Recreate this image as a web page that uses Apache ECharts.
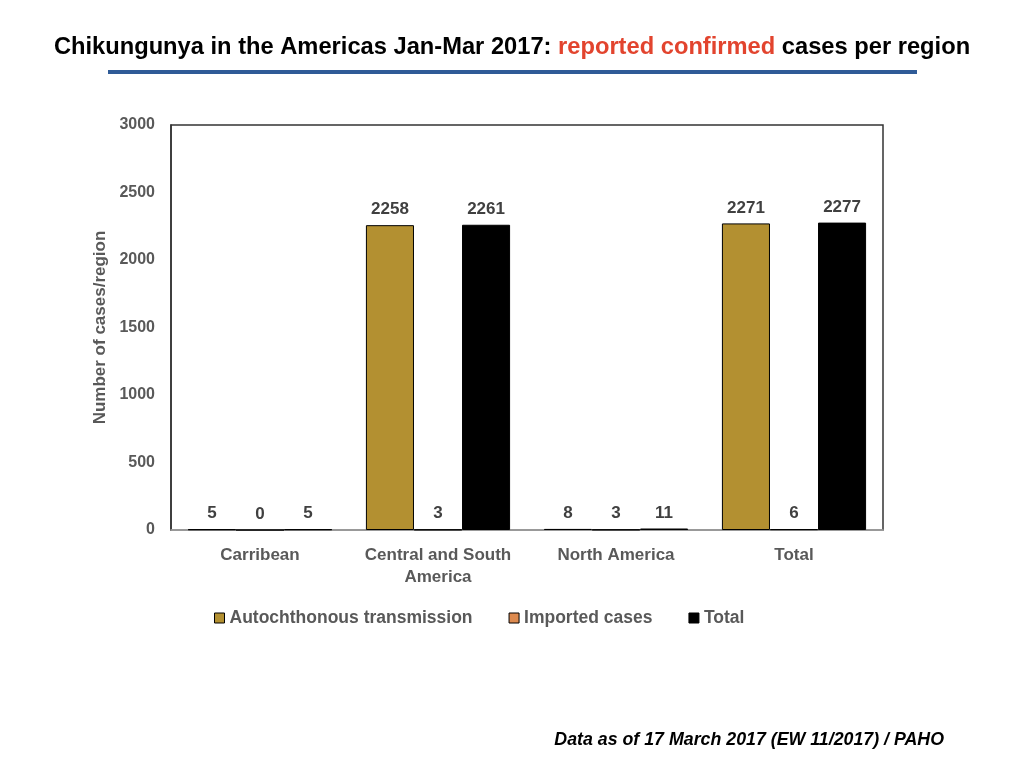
<!DOCTYPE html>
<html style="height: 100%">

<head>
    <meta charset="utf-8">
</head>

<body style="height: 100%; margin: 0; background: #fff">
    <div id="container" style="width: 1024px; height: 768px"></div>

    <script src="https://cdn.jsdelivr.net/npm/echarts@6/dist/echarts.min.js"></script>

    <script type="text/javascript">
        // 数据
        var regions = ['Carribean', 'Central and South\nAmerica', 'North America', 'Total'];
        var autochthonous = [5, 2258, 8, 2271];
        var imported = [0, 3, 3, 6];
        var totals = [5, 2261, 11, 2277];
        var yTicks = [0, 500, 1000, 1500, 2000, 2500, 3000];

        var myChart = echarts.init(document.getElementById('container'));

        var font = 'Liberation Sans, Arial, sans-serif';
        var grey = '#595959';

        function barSeries(name, values, color) {
            return {
                name: name,
                type: 'bar',
                data: values,
                barGap: 0,
                barCategoryGap: '19%',
                itemStyle: { color: color, borderColor: '#000', borderWidth: 1 },
                label: {
                    show: true,
                    position: 'top',
                    distance: 7,
                    color: '#404040',
                    fontFamily: font,
                    fontWeight: 'bold',
                    fontSize: 17
                }
            };
        }

        var option = {
            backgroundColor: '#fff',
            animation: false,
            title: {
                text: '{a|Chikungunya in the Americas Jan-Mar 2017: }{b|reported confirmed}{a| cases per region}',
                left: 'center',
                top: 30,
                textStyle: {
                    rich: {
                        a: { fontFamily: font, fontWeight: 'bold', fontSize: 23.7, color: '#000' },
                        b: { fontFamily: font, fontWeight: 'bold', fontSize: 23.7, color: '#e2442e' }
                    }
                }
            },
            graphic: [
                {
                    type: 'rect',
                    shape: { x: 108, y: 70, width: 809, height: 4 },
                    style: { fill: '#2f5b97' }
                },
                {
                    type: 'text',
                    right: 80,
                    top: 731,
                    style: {
                        text: 'Data as of 17 March 2017 (EW 11/2017) / PAHO',
                        font: 'italic bold 17.8px Liberation Sans, Arial, sans-serif',
                        fill: '#000'
                    }
                }
            ],
            legend: {
                data: ['Autochthonous transmission', 'Imported cases', 'Total'],
                top: 604,
                left: 209,
                icon: 'rect',
                itemWidth: 10,
                itemHeight: 10,
                itemGap: 36,
                itemStyle: { borderColor: '#000', borderWidth: 1 },
                textStyle: { color: grey, fontFamily: font, fontWeight: 'bold', fontSize: 17.5 }
            },
            grid: {
                left: 171,
                right: 141,
                top: 125,
                bottom: 238,
                show: true,
                borderColor: '#333',
                borderWidth: 1.5
            },
            xAxis: {
                type: 'category',
                data: regions,
                axisTick: { show: false },
                axisLine: { lineStyle: { color: '#aaa', width: 1.5 } },
                axisLabel: {
                    interval: 0,
                    color: grey,
                    fontFamily: font,
                    fontWeight: 'bold',
                    fontSize: 17,
                    lineHeight: 22,
                    margin: 14
                }
            },
            yAxis: {
                type: 'value',
                min: yTicks[0],
                max: yTicks[yTicks.length - 1],
                interval: 500,
                name: 'Number of cases/region',
                nameLocation: 'middle',
                nameGap: 62,
                nameTextStyle: { color: grey, fontFamily: font, fontWeight: 'bold', fontSize: 17 },
                splitLine: { show: false },
                axisTick: { show: false },
                axisLine: { show: true, lineStyle: { color: '#333', width: 1.5 } },
                axisLabel: {
                    color: grey,
                    fontFamily: font,
                    fontWeight: 'bold',
                    fontSize: 16,
                    margin: 16,
                    formatter: function (v) { return String(v); }
                }
            },
            series: [
                barSeries('Autochthonous transmission', autochthonous, '#b39031'),
                barSeries('Imported cases', imported, '#dd8a4f'),
                barSeries('Total', totals, '#000')
            ]
        };

        myChart.setOption(option);
    </script>
</body>

</html>
